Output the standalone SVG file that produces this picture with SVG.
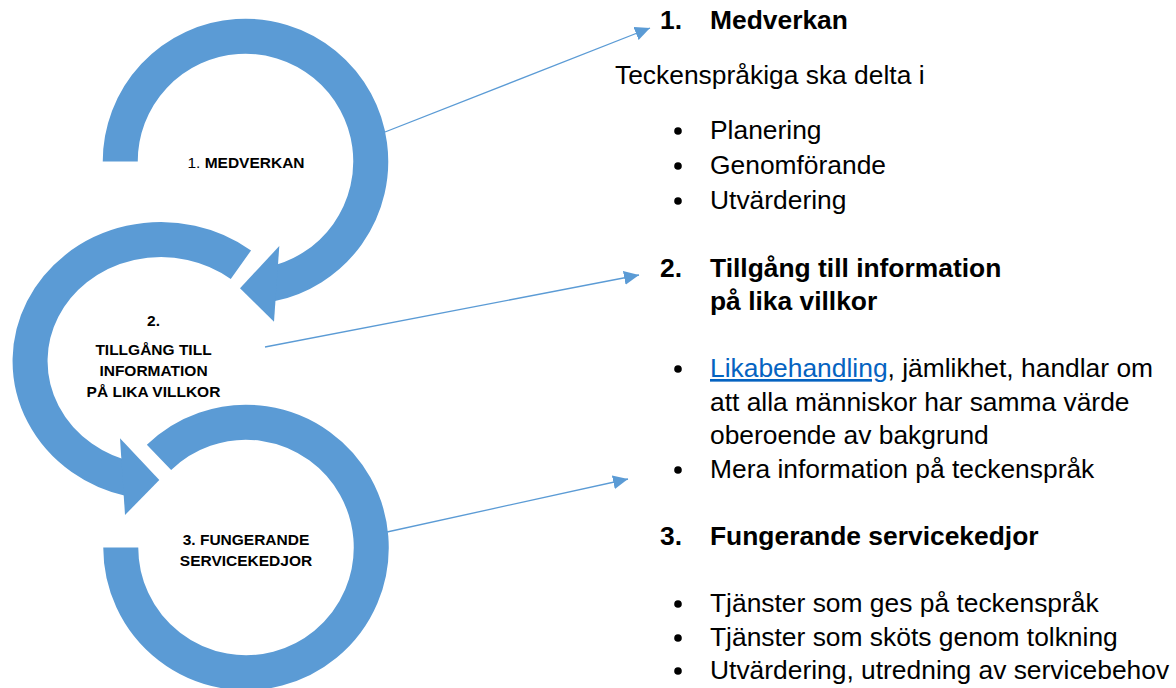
<svg xmlns="http://www.w3.org/2000/svg" width="1176" height="688" viewBox="0 0 1176 688">
<style>
.ring{fill:none;stroke:#5B9BD5;stroke-width:35;stroke-linecap:butt}
.head{fill:#5B9BD5}
.conn{fill:none;stroke:#5B9BD5;stroke-width:1.3}
.lbl{font-family:"Liberation Sans",Arial,sans-serif;font-size:15.5px;font-weight:bold;fill:#000;text-anchor:middle}
.txt{font-family:"Liberation Sans",Arial,sans-serif;font-size:26.4px;fill:#000}
.b{font-weight:bold}
.bul{fill:#000}
</style>
<defs>
<marker id="arr" markerUnits="userSpaceOnUse" markerWidth="15" markerHeight="14" refX="15" refY="7" orient="auto">
<path d="M0,0 L15,7 L0,14 z" fill="#5B9BD5"/>
</marker>
</defs>
<g id="node1">
<path class="ring" d="M120.25,161.5 A125.25,125.25 0 1 1 270.5,284.2"/>
<polygon class="head" points="279.3,246 240,288.3 274,321.7"/>
<text class="lbl" x="246" y="167.5"><tspan font-weight="normal">1. </tspan>MEDVERKAN</text>
</g>
<g id="node2">
<path class="ring" d="M240.9,264.7 A131,121.5 0 1 0 131.5,479.4"/>
<polygon class="head" points="120,438.3 159.3,480 125,515"/>
<text class="lbl" x="153.5" y="326">2.</text>
<text class="lbl" x="153.5" y="355">TILLGÅNG TILL</text>
<text class="lbl" x="153.5" y="376">INFORMATION</text>
<text class="lbl" x="153.5" y="397">PÅ LIKA VILLKOR</text>
</g>
<g id="node3">
<path class="ring" d="M159,457.4 A125.25,125.25 0 1 1 120.75,547.5"/>
<text class="lbl" x="246" y="545">3. FUNGERANDE</text>
<text class="lbl" x="246" y="566">SERVICEKEDJOR</text>
</g>
<g id="connectors">
<line class="conn" x1="385" y1="132" x2="650" y2="28" marker-end="url(#arr)"/>
<line class="conn" x1="265" y1="347" x2="639" y2="275" marker-end="url(#arr)"/>
<line class="conn" x1="387" y1="532" x2="628" y2="479" marker-end="url(#arr)"/>
</g>
<g id="text1">
<text class="txt b" x="660" y="29">1.</text>
<text class="txt b" x="710" y="29">Medverkan</text>
<text class="txt" x="615" y="84">Teckenspråkiga ska delta i</text>
<circle class="bul" cx="678" cy="131" r="3.8"/>
<text class="txt" x="710" y="139">Planering</text>
<circle class="bul" cx="678" cy="166" r="3.8"/>
<text class="txt" x="710" y="174">Genomförande</text>
<circle class="bul" cx="678" cy="201" r="3.8"/>
<text class="txt" x="710" y="209">Utvärdering</text>
</g>
<g id="text2">
<text class="txt b" x="660" y="277">2.</text>
<text class="txt b" x="710" y="277">Tillgång till information</text>
<text class="txt b" x="710" y="310">på lika villkor</text>
<circle class="bul" cx="678" cy="369" r="3.8"/>
<text class="txt" x="710" y="377"><tspan fill="#0563C1" text-decoration="underline">Likabehandling</tspan>, jämlikhet, handlar om</text>
<text class="txt" x="710" y="411">att alla människor har samma värde</text>
<text class="txt" x="710" y="444">oberoende av bakgrund</text>
<circle class="bul" cx="678" cy="470" r="3.8"/>
<text class="txt" x="710" y="478">Mera information på teckenspråk</text>
</g>
<g id="text3">
<text class="txt b" x="660" y="545">3.</text>
<text class="txt b" x="710" y="545">Fungerande servicekedjor</text>
<circle class="bul" cx="678" cy="604" r="3.8"/>
<text class="txt" x="710" y="612">Tjänster som ges på teckenspråk</text>
<circle class="bul" cx="678" cy="638" r="3.8"/>
<text class="txt" x="710" y="646">Tjänster som sköts genom tolkning</text>
<circle class="bul" cx="678" cy="671" r="3.8"/>
<text class="txt" x="710" y="679">Utvärdering, utredning av servicebehov</text>
</g>
</svg>
